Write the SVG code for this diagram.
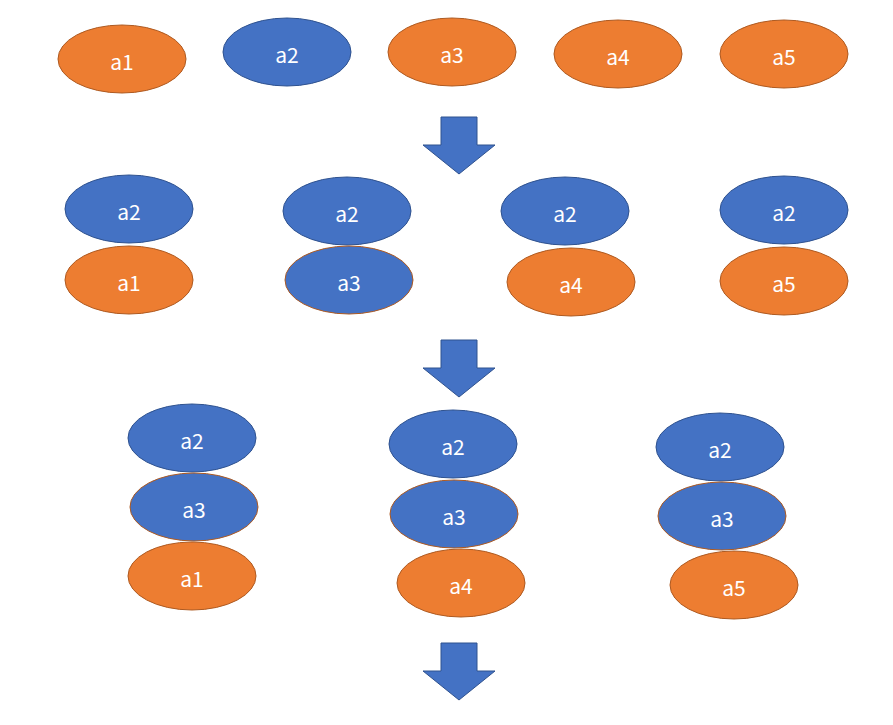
<svg xmlns="http://www.w3.org/2000/svg" width="893" height="725" viewBox="0 0 893 725">
<style>
.o{fill:#ED7D31;stroke:#AE5A21;stroke-width:1}
.b{fill:#4472C4;stroke:#2F528F;stroke-width:1}
.bo{fill:#4472C4;stroke:#AE5A21;stroke-width:1}
text{font-family:"Noto Sans CJK SC","Noto Sans",sans-serif;font-size:21px;fill:#fff;text-anchor:middle;dominant-baseline:central}
.arr{fill:#4472C4;stroke:#2F528F;stroke-width:1}
</style>
<defs>
<polygon id="dn" points="-18,0 18,0 18,28 36,28 0,57 -36,28 -18,28"/>
</defs>
<rect width="893" height="725" fill="#fff"/>
<g id="r1a1"><ellipse class="o" cx="122" cy="59" rx="64" ry="34"/><text x="122" y="61">a1</text></g>
<g id="r1a2"><ellipse class="b" cx="287" cy="52" rx="64" ry="34"/><text x="287" y="54">a2</text></g>
<g id="r1a3"><ellipse class="o" cx="452" cy="52" rx="64" ry="34"/><text x="452" y="54">a3</text></g>
<g id="r1a4"><ellipse class="o" cx="618" cy="54" rx="64" ry="34"/><text x="618" y="56">a4</text></g>
<g id="r1a5"><ellipse class="o" cx="784" cy="54" rx="64" ry="34"/><text x="784" y="56">a5</text></g>

<g id="r2c1a2"><ellipse class="b" cx="129" cy="209" rx="64" ry="34"/><text x="129" y="211">a2</text></g>
<g id="r2c1a1"><ellipse class="o" cx="129" cy="280" rx="64" ry="34"/><text x="129" y="282">a1</text></g>
<g id="r2c2a2"><ellipse class="b" cx="347" cy="211" rx="64" ry="34"/><text x="347" y="213">a2</text></g>
<g id="r2c2a3"><ellipse class="bo" cx="349" cy="280" rx="64" ry="34"/><text x="349" y="282">a3</text></g>
<g id="r2c3a2"><ellipse class="b" cx="565" cy="211" rx="64" ry="34"/><text x="565" y="213">a2</text></g>
<g id="r2c3a4"><ellipse class="o" cx="571" cy="282" rx="64" ry="34"/><text x="571" y="284">a4</text></g>
<g id="r2c4a2"><ellipse class="b" cx="784" cy="210" rx="64" ry="34"/><text x="784" y="212">a2</text></g>
<g id="r2c4a5"><ellipse class="o" cx="784" cy="281" rx="64" ry="34"/><text x="784" y="283">a5</text></g>

<g id="r3c1a2"><ellipse class="b" cx="192" cy="438" rx="64" ry="34"/><text x="192" y="440">a2</text></g>
<g id="r3c1a3"><ellipse class="bo" cx="194" cy="507" rx="64" ry="34"/><text x="194" y="509">a3</text></g>
<g id="r3c1a1"><ellipse class="o" cx="192" cy="576" rx="64" ry="34"/><text x="192" y="578">a1</text></g>
<g id="r3c2a2"><ellipse class="b" cx="453" cy="444" rx="64" ry="34"/><text x="453" y="446">a2</text></g>
<g id="r3c2a3"><ellipse class="bo" cx="454" cy="514" rx="64" ry="34"/><text x="454" y="516">a3</text></g>
<g id="r3c2a4"><ellipse class="o" cx="461" cy="583" rx="64" ry="34"/><text x="461" y="585">a4</text></g>
<g id="r3c3a2"><ellipse class="b" cx="720" cy="447" rx="64" ry="34"/><text x="720" y="449">a2</text></g>
<g id="r3c3a3"><ellipse class="bo" cx="722" cy="516" rx="64" ry="34"/><text x="722" y="518">a3</text></g>
<g id="r3c3a5"><ellipse class="o" cx="734" cy="585" rx="64" ry="34"/><text x="734" y="587">a5</text></g>

<g id="connectors">
<use href="#dn" class="arr" x="459" y="117"/>
<use href="#dn" class="arr" x="459" y="340"/>
<use href="#dn" class="arr" x="459" y="643"/>
</g>
</svg>
